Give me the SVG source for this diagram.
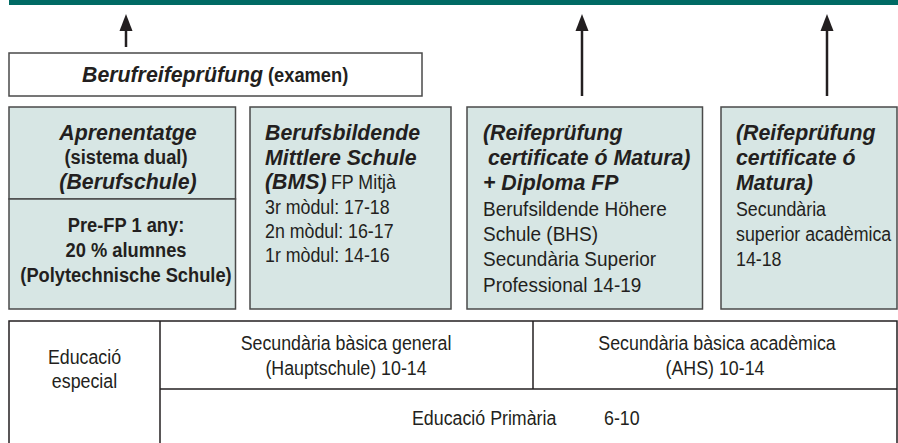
<svg xmlns="http://www.w3.org/2000/svg" width="898" height="443" viewBox="0 0 898 443">
<defs>
<style>
.t{font-family:"Liberation Sans",Arial,sans-serif;font-size:20px;fill:#231f20}
.b{font-weight:bold}
.bi{font-weight:bold;font-style:italic;font-size:21.3px}
.c{text-anchor:middle}
.box{fill:#d7e6e4;stroke:#4a4a4a;stroke-width:1.5}
.wbox{fill:#ffffff;stroke:#4a4a4a;stroke-width:1.5}
.ln{stroke:#231f20;stroke-width:1.5;fill:none}
.arr{stroke:#231f20;stroke-width:2.5;fill:none}
.head{fill:#231f20}
</style>
</defs>
<rect x="9" y="0" width="889" height="5" fill="#006a64"/>

<g id="connectors">
<path class="arr" d="M126,47 L126,24"/>
<polygon class="head" points="126,14 119.5,31 132.5,31"/>
<path class="arr" d="M582,96 L582,24"/>
<polygon class="head" points="582,14 575.5,31 588.5,31"/>
<path class="arr" d="M827,96 L827,24"/>
<polygon class="head" points="827,14 820.5,31 833.5,31"/>
</g>

<g id="berufreife">
<rect class="wbox" x="9" y="53" width="413" height="43"/>
<text class="t bi" x="82" y="82">Berufreifeprüfung</text>
<text class="t b" transform="translate(268 82) scale(0.915 1)">(examen)</text>
</g>

<g id="aprenentatge">
<rect class="box" x="9" y="107" width="226.5" height="92"/>
<text class="t c bi" x="128" y="140">Aprenentatge</text>
<text class="t c b" transform="translate(126 164) scale(0.915 1)">(sistema dual)</text>
<text class="t c bi" x="128" y="189">(Berufschule)</text>
</g>

<g id="prefp">
<rect class="box" x="9" y="199" width="226.5" height="110"/>
<text class="t c b" transform="translate(126 232) scale(0.915 1)">Pre-FP 1 any:</text>
<text class="t c b" transform="translate(126 257) scale(0.915 1)">20 % alumnes</text>
<text class="t c b" transform="translate(126 282) scale(0.915 1)">(Polytechnische Schule)</text>
</g>

<g id="bms">
<rect class="box" x="250" y="107" width="201" height="202"/>
<text class="t bi" x="265" y="140">Berufsbildende</text>
<text class="t bi" x="265" y="165">Mittlere Schule</text>
<text class="t bi" x="265" y="189">(BMS)</text>
<text class="t" transform="translate(331 189) scale(0.89 1)">FP Mitjà</text>
<text class="t" transform="translate(265 214) scale(0.89 1)">3r mòdul: 17-18</text>
<text class="t" transform="translate(265 238) scale(0.89 1)">2n mòdul: 16-17</text>
<text class="t" transform="translate(265 262) scale(0.89 1)">1r mòdul: 14-16</text>
</g>

<g id="bhs">
<rect class="box" x="467" y="107" width="235.5" height="202"/>
<text class="t bi" x="483" y="140">(Reifeprüfung</text>
<text class="t bi" x="488" y="165">certificate ó Matura)</text>
<text class="t bi" x="483" y="190">+ Diploma FP</text>
<text class="t" transform="translate(483 216) scale(0.95 1)">Berufsildende Höhere</text>
<text class="t" transform="translate(483 241) scale(0.95 1)">Schule (BHS)</text>
<text class="t" transform="translate(483 266) scale(0.95 1)">Secundària Superior</text>
<text class="t" transform="translate(483 292) scale(0.95 1)">Professional 14-19</text>
</g>

<g id="ahs-sup">
<rect class="box" x="721" y="107" width="176" height="202"/>
<text class="t bi" x="736" y="140">(Reifeprüfung</text>
<text class="t bi" x="736" y="165">certificate ó</text>
<text class="t bi" x="736" y="190">Matura)</text>
<text class="t" transform="translate(736 216) scale(0.89 1)">Secundària</text>
<text class="t" transform="translate(736 241) scale(0.89 1)">superior acadèmica</text>
<text class="t" transform="translate(736 266) scale(0.89 1)">14-18</text>
</g>

<g id="base-table">
<path class="ln" d="M9,444 L9,321 L897,321 L897,444"/>
<path class="ln" d="M160,321 L160,444"/>
<path class="ln" d="M160,389 L897,389"/>
<path class="ln" d="M533,321 L533,389"/>
</g>

<g id="especial">
<text class="t c" transform="translate(84.5 364) scale(0.89 1)">Educació</text>
<text class="t c" transform="translate(84.5 388) scale(0.89 1)">especial</text>
</g>
<g id="sec-general">
<text class="t c" transform="translate(346 350) scale(0.89 1)">Secundària bàsica general</text>
<text class="t c" transform="translate(346 375) scale(0.89 1)">(Hauptschule) 10-14</text>
</g>
<g id="sec-academica">
<text class="t c" transform="translate(717 350) scale(0.89 1)">Secundària bàsica acadèmica</text>
<text class="t c" transform="translate(715 375) scale(0.89 1)">(AHS) 10-14</text>
</g>
<g id="primaria">
<text class="t" transform="translate(412 425) scale(0.89 1)">Educació Primària</text>
<text class="t" transform="translate(604 425) scale(0.89 1)">6-10</text>
</g>
</svg>
